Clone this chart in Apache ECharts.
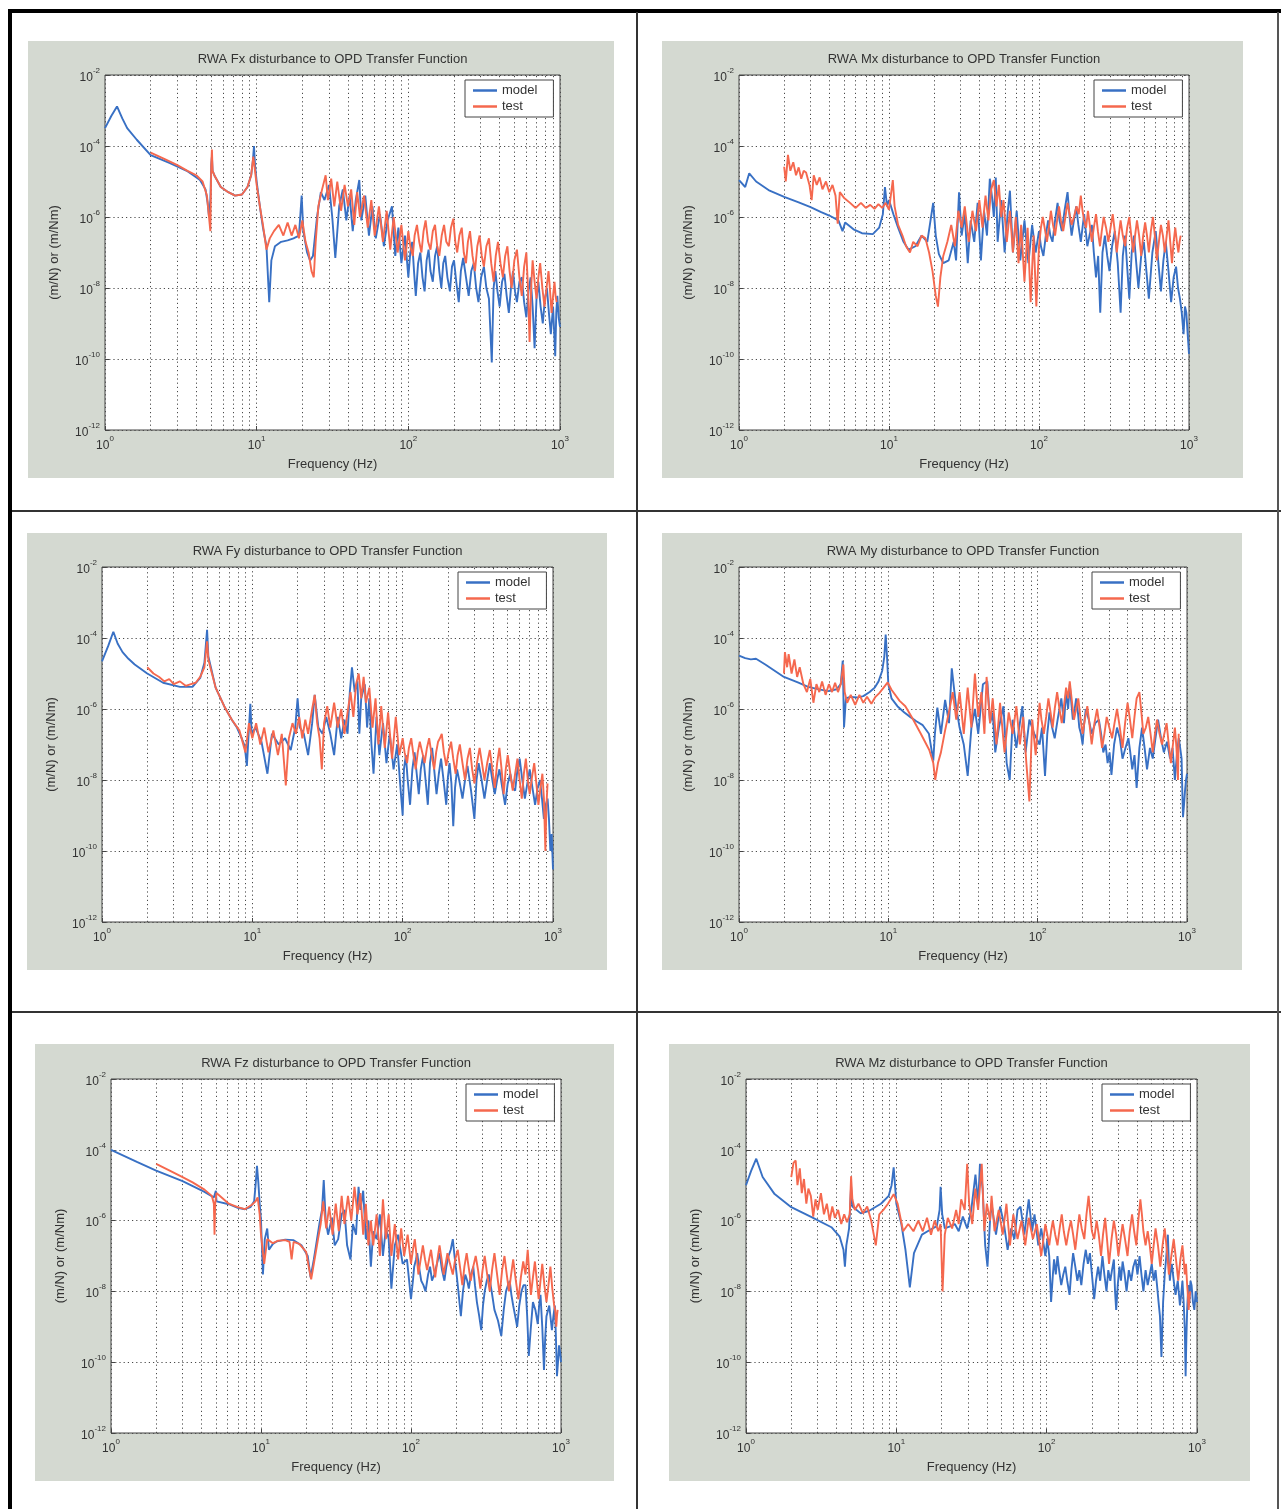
<!DOCTYPE html>
<html><head><meta charset="utf-8">
<script src="https://cdn.jsdelivr.net/npm/echarts@6/dist/echarts.min.js"></script>
<style>html,body{margin:0;padding:0;background:#fff}#c{width:1281px;height:1509px}</style>
</head><body><div id="c"></div>
<script>
// ---------------- text ----------------
const panelTitles = [
  'RWA Fx disturbance to OPD Transfer Function',
  'RWA Mx disturbance to OPD Transfer Function',
  'RWA Fy disturbance to OPD Transfer Function',
  'RWA My disturbance to OPD Transfer Function',
  'RWA Fz disturbance to OPD Transfer Function',
  'RWA Mz disturbance to OPD Transfer Function'
];
const xAxisName = 'Frequency (Hz)';
const yAxisName = '(m/N) or (m/Nm)';
const seriesNames = ['model', 'test'];
// tick values (decades) and minor grid frequencies
const xTickValues = [1, 10, 100, 1000];
const yTickValues = [1e-12, 1e-10, 1e-8, 1e-6, 1e-4, 1e-2];
const minorGridFreqs = [2,3,4,5,6,7,8,9,20,30,40,50,60,70,80,90,200,300,400,500,600,700,800,900];

// ---------------- data: [frequency Hz, magnitude] ----------------
const fxModel = [[1,3.2e-4],[1.1,7e-4],[1.2,1.3e-3],[1.3,6e-4],[1.4,3.2e-4],[1.62,1.5e-4],[2,5.5e-5],[2.68,3.3e-5],[3.46,2e-5],[4.23,1.1e-5],[4.6,6e-6],[4.75,2.5e-6],[4.85,1e-6],[4.95,3e-6],[5.02,3e-5],[5.07,5e-5],[5.12,2e-5],[5.3,1.4e-5],[5.8,7e-6],[6.5,5e-6],[7.2,4e-6],[8,4.3e-6],[8.7,7e-6],[9.2,1.5e-5],[9.45,4e-5],[9.6,1e-4],[9.75,3e-5],[10,1e-5],[10.5,2e-6],[11,5e-7],[11.6,1.5e-7],[12.1,4e-9],[12.5,6e-8],[13.2,1.5e-7],[14.5,2e-7],[16,2.2e-7],[17.5,2.5e-7],[19,3e-7],[19.8,4e-6],[20.3,4e-7],[21.5,1e-7],[22.5,6e-8],[23.5,8e-8],[25,1e-6],[26.5,5e-6],[28,3e-6],[30,8e-6],[31.5,1e-6],[33,7e-8],[35,2e-6],[37,6e-6],[39,8e-7],[41,4e-6],[43,4e-7],[45,3e-6],[47.5,1.1e-5],[49,8e-7],[52,4e-6],[55,3e-7],[58,2e-6],[61,2.5e-7],[65,1.2e-6],[69,1.5e-7],[73,8e-7],[78,2e-6],[82,8e-8],[86,5e-7],[90,5e-8],[95,3e-7],[100,2e-8],[103,1e-7],[106,2e-7],[109,3e-8],[112,6e-9],[116,5e-8],[120,1e-7],[124,2e-8],[128,8e-9],[132,6e-8],[136,1.2e-7],[140,3e-8],[145,1.5e-8],[150,8e-8],[155,1.5e-7],[160,3e-8],[165,1e-8],[170,5e-8],[175,8e-8],[181,2e-8],[188,8e-9],[194,4e-8],[200,6e-8],[207,1.5e-8],[215,4e-9],[222,3e-8],[230,7e-8],[240,2e-8],[250,6e-9],[260,3e-8],[270,5e-8],[280,1e-8],[290,4e-9],[302,2e-8],[315,4e-8],[327,1e-8],[340,5e-9],[355,8e-11],[365,1e-8],[375,3e-8],[387,8e-9],[400,3e-9],[415,1.5e-8],[430,2.5e-8],[445,6e-9],[460,2e-9],[475,1e-8],[490,3e-8],[505,8e-9],[520,4e-9],[540,1.5e-8],[560,2e-8],[580,4e-9],[600,1.5e-9],[620,8e-9],[640,2e-8],[660,3e-9],[680,2e-10],[700,5e-9],[720,1.5e-8],[745,3e-9],[770,1e-9],[795,5e-9],[820,1e-8],[845,2e-9],[870,5e-10],[900,3e-9],[930,1.2e-10],[945,2e-9],[960,6e-9],[980,1.5e-9],[1000,8e-10]];
const fxTest = [[2,6.5e-5],[2.5,4.2e-5],[3,2.9e-5],[3.5,2e-5],[4,1.5e-5],[4.4,1e-5],[4.7,4e-6],[4.85,1e-6],[4.95,4e-7],[5.02,3e-5],[5.07,8e-5],[5.12,2e-5],[5.3,1.4e-5],[5.8,7e-6],[6.5,5e-6],[7.2,4e-6],[8,4.3e-6],[8.7,7e-6],[9.2,1.5e-5],[9.5,5e-5],[9.75,2e-5],[10,8e-6],[10.5,2e-6],[11,6e-7],[11.6,1.2e-7],[12.2,2.5e-7],[13,4e-7],[14,6e-7],[15,3e-7],[16,7e-7],[17,3e-7],[18,6e-7],[19,2.5e-7],[20,8e-7],[21,2e-7],[22,1e-7],[23,3e-8],[23.8,2e-8],[24.5,2e-7],[25.5,2e-6],[27,6e-6],[28.5,1.5e-5],[29.5,3e-6],[31,1.2e-5],[32.5,2e-6],[34,1e-5],[36,1.5e-6],[38,8e-6],[40,2e-6],[42,6e-6],[44,6e-7],[46,5e-6],[48,1e-6],[51,4e-6],[54,5e-7],[57,3e-6],[60,3e-7],[64,2e-6],[68,2e-7],[72,1.5e-6],[76,1.2e-7],[80,1e-6],[85,1e-7],[90,6e-7],[95,6e-8],[100,4e-7],[103,1.5e-7],[107,8e-8],[110,3e-7],[114,6e-7],[118,2e-7],[122,1e-7],[126,4e-7],[130,8e-7],[135,2e-7],[140,1.2e-7],[145,4e-7],[150,6e-7],[155,1.5e-7],[160,8e-8],[166,3e-7],[172,6e-7],[178,2e-7],[185,1.5e-7],[191,5e-7],[198,9e-7],[204,2e-7],[210,1e-7],[217,3e-7],[225,5e-7],[232,1e-7],[240,5e-8],[247,2e-7],[255,4e-7],[265,8e-8],[275,3e-8],[285,1.5e-7],[295,3e-7],[305,8e-8],[315,4e-8],[327,1.5e-7],[340,2.5e-7],[352,5e-8],[365,1.5e-8],[377,8e-8],[390,2e-7],[405,5e-8],[420,2e-8],[435,8e-8],[450,1.5e-7],[465,3e-8],[480,1e-8],[500,6e-8],[520,1.2e-7],[540,2e-8],[560,6e-9],[580,4e-8],[600,1e-7],[615,1e-8],[630,3e-10],[645,1e-8],[660,6e-8],[680,1.5e-8],[700,5e-9],[720,2e-8],[740,5e-8],[765,1e-8],[790,3e-9],[815,1e-8],[840,3e-8],[860,8e-9],[880,2e-9],[900,6e-9],[920,1.5e-8],[935,6e-9],[950,4e-9]];

const mxModel = [[1,1.1e-5],[1.1,7e-6],[1.17,1.7e-5],[1.3,1e-5],[1.6,5.5e-6],[2,3.7e-6],[2.5,2.6e-6],[3,1.9e-6],[3.5,1.4e-6],[4,1.1e-6],[4.6,8e-7],[4.9,4e-7],[5.1,7e-7],[5.8,4.5e-7],[6.6,3.5e-7],[7.8,3.3e-7],[8.6,5e-7],[9.1,1.2e-6],[9.4,7e-6],[9.7,2e-6],[10,3e-6],[10.7,1.2e-6],[11.5,5e-7],[12.5,2e-7],[13.5,1.2e-7],[15,1.5e-7],[16.5,3e-7],[18,2e-7],[19.7,2.5e-6],[20.5,3e-7],[21.5,9e-8],[23,5e-8],[25,6e-8],[27,2e-7],[28,6e-8],[29.3,5e-6],[30.5,3e-7],[32,1.2e-6],[33.5,5e-8],[35,8e-7],[37,2e-7],[39,2.5e-6],[41,6e-8],[43,1.5e-6],[45,3e-7],[47,1.2e-5],[48.5,4e-6],[50,1e-6],[51.5,1.3e-5],[53,2e-7],[56,3e-6],[59,1e-7],[62,1.5e-6],[64,5.5e-6],[67,1e-7],[71,1.5e-6],[75,6e-8],[80,8e-7],[85,5e-8],[90,6e-7],[95,1e-7],[100,4e-7],[103,1.5e-7],[107,8e-8],[111,3e-7],[115,8e-7],[119,3e-7],[123,2e-7],[128,8e-7],[133,2.5e-6],[137,8e-7],[142,4e-7],[148,1.5e-6],[155,5e-6],[160,1e-6],[165,3e-7],[171,8e-7],[177,2e-6],[183,6e-7],[190,2e-7],[195,5e-7],[200,1.2e-6],[205,4e-7],[210,1.5e-7],[217,3e-7],[225,6e-7],[232,1e-7],[240,2e-8],[248,8e-8],[256,2e-9],[265,1e-7],[275,3e-7],[285,8e-8],[295,3e-8],[307,1.5e-7],[320,4e-7],[335,5e-8],[350,2e-9],[362,8e-8],[375,3e-7],[387,4e-8],[400,5e-9],[415,1e-7],[430,3e-7],[445,5e-8],[460,1e-8],[480,8e-8],[500,2e-7],[520,3e-8],[540,5e-9],[570,1e-7],[600,4e-7],[625,5e-8],[650,8e-9],[675,6e-8],[700,2e-7],[730,3e-8],[760,4e-9],[790,2e-8],[820,4e-8],[845,1e-8],[870,5e-9],[895,2e-9],[920,5e-10],[940,3e-9],[960,2e-9],[980,5e-10],[1000,1.4e-10]];
const mxTest = [[2,2.6e-5],[2.05,1e-5],[2.12,5.6e-5],[2.2,2e-5],[2.3,3.5e-5],[2.4,1.5e-5],[2.5,2.5e-5],[2.6,1.2e-5],[2.7,2e-5],[2.8,1.8e-5],[2.95,8e-6],[3.05,3e-6],[3.15,1.5e-5],[3.3,8e-6],[3.45,1.3e-5],[3.6,6e-6],[3.8,1e-5],[4,5e-6],[4.2,8e-6],[4.4,4e-6],[4.55,6.5e-7],[4.7,5e-6],[5,3.5e-6],[5.5,2.5e-6],[6,1.8e-6],[6.5,2.5e-6],[7,1.8e-6],[7.5,2.2e-6],[8,1.7e-6],[8.5,2.3e-6],[9,1.8e-6],[9.5,2.5e-6],[10,1.6e-6],[10.6,1.1e-5],[10.9,2e-6],[11.5,6e-7],[12.3,3e-7],[13,1.5e-7],[13.8,1e-7],[14.5,2e-7],[15.5,1.5e-7],[16.5,3e-7],[17.5,2.5e-7],[18.5,1e-7],[19.5,3e-8],[20.5,6e-9],[21.2,3e-9],[22,2e-8],[23,8e-8],[24.5,2e-7],[26,6e-7],[27.5,1.5e-7],[29,1.5e-6],[30.5,5e-7],[32,2e-6],[34,2e-7],[36,1.5e-6],[38,4e-7],[40,3e-6],[42,5e-7],[44,4e-6],[46,8e-7],[48,6e-6],[50,1.1e-5],[52,2e-6],[54,8e-6],[56,1e-6],[58,3e-6],[61,2e-7],[64,1.5e-6],[67,1e-7],[70,1e-6],[73,5e-8],[76,6e-7],[80,1.5e-8],[84,5e-7],[88,4e-9],[92,3e-7],[96,3e-9],[100,1.5e-7],[103,5e-7],[106,1e-6],[110,4e-7],[113,2e-7],[117,6e-7],[120,1.5e-6],[124,6e-7],[128,3e-7],[132,8e-7],[136,2e-6],[140,8e-7],[145,4e-7],[150,1e-6],[155,2.5e-6],[160,1.2e-6],[165,6e-7],[171,1e-6],[178,2e-6],[184,1.2e-6],[190,4e-6],[195,1.5e-6],[200,8e-7],[206,5e-7],[212,1.5e-6],[218,6e-7],[225,2e-7],[232,5e-7],[240,1.2e-6],[247,4e-7],[255,1.5e-7],[262,4e-7],[270,1e-6],[280,5e-7],[290,2e-7],[300,5e-7],[310,1.2e-6],[320,4e-7],[330,1e-7],[340,3e-7],[350,8e-7],[362,3e-7],[375,1.5e-7],[387,5e-7],[400,1e-6],[412,3e-7],[425,1e-7],[437,3e-7],[450,8e-7],[465,3e-7],[480,8e-8],[495,3e-7],[510,7e-7],[525,3e-7],[540,1e-7],[557,4e-7],[575,1e-6],[592,3e-7],[610,6e-8],[630,2e-7],[650,6e-7],[670,3e-7],[690,1e-7],[710,3e-7],[730,8e-7],[750,2e-7],[770,5e-8],[790,2e-7],[810,5e-7],[830,2e-7],[850,1e-7],[865,2e-7],[880,3e-7]];

const fyModel = [[1,2.2e-5],[1.1,6e-5],[1.19,1.5e-4],[1.27,7e-5],[1.37,4e-5],[1.5,2.6e-5],[1.65,1.8e-5],[2,1e-5],[2.55,5.5e-6],[3.3,4.2e-6],[4,4.2e-6],[4.5,7.5e-6],[4.8,2e-5],[5,1.7e-4],[5.1,3e-5],[5.3,1.5e-5],[5.7,4e-6],[6.5,1.2e-6],[7.3,5e-7],[7.9,3e-7],[8.5,1.5e-7],[8.9,9e-8],[9.2,2.5e-8],[9.5,3e-7],[9.7,1.4e-6],[9.9,2e-7],[10.5,3e-7],[11.5,1.2e-7],[12.6,1.5e-8],[13.5,2e-7],[15,1e-7],[16.5,1.5e-7],[18,7e-8],[19.3,3e-7],[20,2e-6],[20.7,3e-7],[22,2e-7],[23.5,5e-8],[25,4e-7],[26,2.5e-6],[27.5,3e-7],[29.3,2e-7],[31,6e-7],[33,2e-7],[35,5e-8],[37,6e-7],[39,1.5e-7],[41,5e-7],[43,2e-7],[44.5,3e-6],[46,1.5e-5],[48,3e-6],[50,6e-6],[51.5,2e-7],[53,2e-6],[56,5e-6],[58,3e-7],[60,2e-6],[62,1e-7],[64,1.5e-8],[67,6e-7],[70,5e-8],[74,4e-7],[78,3e-8],[82,2e-7],[87,2e-8],[92,1e-7],[97,5e-9],[100,1e-9],[102,2e-8],[105,5e-8],[108,1e-8],[112,2e-9],[116,2e-8],[120,6e-8],[124,1.5e-8],[128,4e-9],[132,2e-8],[137,5e-8],[142,1e-8],[147,2e-9],[152,3e-8],[157,8e-8],[162,2e-8],[168,4e-9],[174,1.5e-8],[180,4e-8],[187,1e-8],[195,2e-9],[200,1.2e-8],[205,3e-8],[211,8e-9],[217,5e-10],[223,6e-9],[230,2e-8],[240,8e-9],[250,3e-9],[260,1e-8],[270,2.5e-8],[285,5e-9],[300,8e-10],[310,1e-8],[320,3e-8],[335,1e-8],[350,3e-9],[365,1e-8],[380,3e-8],[395,1e-8],[410,4e-9],[425,1e-8],[440,2e-8],[460,6e-9],[480,2e-9],[500,8e-9],[520,1.5e-8],[540,6e-9],[560,5e-9],[580,2e-8],[600,4e-8],[625,1e-8],[650,3e-9],[675,8e-9],[700,2e-8],[730,6e-9],[760,2e-9],[790,6e-9],[820,1e-8],[845,3e-9],[870,8e-10],[895,2e-9],[920,3e-9],[940,8e-10],[960,1e-10],[980,3e-10],[1000,3e-11]];
const fyTest = [[2,1.5e-5],[2.2,1e-5],[2.4,8e-6],[2.6,6e-6],[2.8,7e-6],[3,5e-6],[3.3,6e-6],[3.6,4.5e-6],[3.9,5e-6],[4.2,5.5e-6],[4.5,8e-6],[4.8,1.5e-5],[5,8e-5],[5.1,2.5e-5],[5.3,1.3e-5],[5.7,4e-6],[6.5,1.2e-6],[7.3,5e-7],[8.2,2.5e-7],[9,6e-8],[9.5,4e-7],[10,1.5e-7],[10.6,4e-7],[11.3,1e-7],[12,3e-7],[12.8,6e-8],[13.8,2.5e-7],[14.8,5e-8],[15.7,2e-7],[16.7,7e-9],[17.5,1.5e-7],[18.5,4e-7],[19.5,2e-7],[20.5,6e-7],[21.5,1.5e-7],[22.5,5e-7],[23.5,2e-7],[25,1e-6],[26,2.5e-6],[27,4e-7],[28,1.5e-7],[29,2e-8],[30,4e-7],[31.5,1.2e-6],[33,3e-7],[35,1.5e-6],[37,3e-7],[39,1e-6],[41,2e-7],[43,8e-7],[45,3e-6],[47,6e-7],[49,5e-6],[51,1e-5],[53,2e-6],[55,8e-6],[57,1.5e-6],[60,4e-6],[63,3e-7],[66,2e-6],[69,1e-7],[72,1.2e-6],[76,8e-8],[80,8e-7],[85,4e-8],[90,6e-7],[95,5e-8],[100,1.5e-7],[103,6e-8],[107,3e-8],[110,8e-8],[114,1.5e-7],[118,5e-8],[122,2e-8],[126,6e-8],[130,1.2e-7],[135,6e-8],[140,3e-8],[145,8e-8],[150,1.5e-7],[156,5e-8],[162,2e-8],[167,6e-8],[172,1.2e-7],[177,1.5e-7],[182,2e-7],[188,6e-8],[195,2.5e-8],[202,6e-8],[210,1.2e-7],[217,4e-8],[225,1.5e-8],[232,5e-8],[240,1e-7],[250,3e-8],[260,1e-8],[270,4e-8],[280,8e-8],[290,2e-8],[300,8e-9],[312,3e-8],[325,8e-8],[337,3e-8],[350,1e-8],[365,3e-8],[380,7e-8],[395,2e-8],[410,6e-9],[425,3e-8],[440,8e-8],[455,2e-8],[470,4e-9],[485,2e-8],[500,5e-8],[520,1.5e-8],[540,5e-9],[560,1.5e-8],[580,4e-8],[600,1e-8],[620,3e-9],[640,1.5e-8],[660,4e-8],[680,1e-8],[700,4e-9],[725,1.2e-8],[750,3e-8],[775,8e-9],[800,2e-9],[825,6e-9],[850,1.5e-8],[870,3e-9],[890,1e-10],[905,2e-9],[920,8e-9]];

const myModel = [[1,3.2e-5],[1.1,2.7e-5],[1.2,2.5e-5],[1.3,2.6e-5],[1.5,1.8e-5],[2,8e-6],[2.5,5.5e-6],[2.9,4.2e-6],[3.5,3.5e-6],[4,3.2e-6],[4.5,3.6e-6],[4.8,5e-6],[4.95,2.3e-5],[5.05,3e-7],[5.2,2e-6],[5.55,2.2e-6],[6.2,2.1e-6],[6.8,2.3e-6],[7.5,3e-6],[8.1,4e-6],[8.6,6e-6],[9.1,1.2e-5],[9.4,3e-5],[9.6,1.25e-4],[9.8,3e-5],[10,5e-6],[10.5,2e-6],[11.5,1.2e-6],[12.8,8e-7],[14,6e-7],[15.4,4.5e-7],[17,3.5e-7],[18.7,2e-7],[20,3.5e-8],[20.5,2e-7],[21.3,1.1e-6],[22.5,2e-7],[24,1.8e-6],[25.5,4e-7],[26.6,1.4e-5],[28.4,1.2e-6],[30,3e-7],[32,1e-7],[34,1.3e-8],[36,3e-7],[38,1e-6],[40,2e-7],[43,5e-6],[46,6e-6],[48,4e-7],[50,8e-7],[52,6e-8],[55,3e-7],[59,1.2e-6],[62,3e-8],[65,1e-8],[68,5e-7],[72,8e-8],[76,4e-7],[79,1.2e-6],[83,6e-8],[88,5e-7],[95,2e-7],[103,1e-7],[107,3e-7],[112,1.3e-8],[116,2e-7],[120,8e-7],[125,3e-7],[130,1.5e-7],[137,6e-7],[144,2e-6],[150,4e-7],[155,3e-6],[160,1e-6],[164,5e-6],[168,1.5e-6],[172,5e-7],[177,1e-6],[181,2e-6],[186,8e-7],[190,3e-7],[195,2e-7],[200,1e-7],[205,4e-7],[210,1e-6],[220,5e-7],[230,2e-7],[243,4e-7],[257,5e-7],[266,2e-7],[275,6e-8],[285,1e-7],[294,3e-8],[303,6e-8],[312,1.4e-8],[325,1e-7],[340,3e-7],[355,1.5e-7],[370,4e-8],[387,8e-8],[405,1.5e-7],[417,6e-8],[430,2e-8],[445,5e-8],[460,6e-9],[480,8e-8],[500,3e-7],[520,8e-8],[540,2e-8],[565,8e-8],[590,4e-8],[615,1.5e-7],[640,5e-7],[670,1.5e-7],[700,6e-8],[735,1.2e-7],[770,4e-8],[800,8e-8],[830,1e-8],[855,5e-8],[880,1.5e-7],[900,8e-8],[920,4e-8],[930,5e-9],[940,9e-10],[955,2e-9],[970,5e-9],[985,1e-8],[1000,1.5e-8]];
const myTest = [[2,1e-5],[2.03,4e-5],[2.1,1.5e-5],[2.15,3.5e-5],[2.25,1e-5],[2.35,2.5e-5],[2.45,8e-6],[2.55,1.5e-5],[2.7,5e-6],[2.85,3e-6],[3,7e-6],[3.15,1.5e-6],[3.3,5e-6],[3.45,3e-6],[3.6,6e-6],[3.8,2.5e-6],[4,5e-6],[4.2,3e-6],[4.4,5.5e-6],[4.6,3e-6],[4.8,5e-6],[5,1.8e-5],[5.1,3e-6],[5.3,1.5e-6],[5.6,2.5e-6],[6,1.3e-6],[6.4,2.5e-6],[6.8,1.5e-6],[7.2,2.2e-6],[7.7,1.4e-6],[8.2,2.2e-6],[8.7,2.8e-6],[9.3,4e-6],[9.9,5.6e-6],[10.5,3.5e-6],[11.9,1.7e-6],[13,1.2e-6],[14.5,5.5e-7],[16.5,2e-7],[18.8,7e-8],[20,3e-8],[20.6,1e-8],[21.5,3e-8],[22.5,6e-8],[24,2.5e-7],[25.7,1e-6],[27,3e-6],[28.5,5e-7],[30,3e-6],[32,2e-7],[34,4e-6],[36,3e-7],[38,1e-5],[40,6e-7],[42,3e-6],[44,2e-7],[45.5,8e-6],[48,4e-7],[50,2e-6],[53,1e-7],[56,1.5e-6],[60,6e-8],[64,8e-7],[68,2e-7],[72,1.2e-6],[76,1e-7],[80,6e-7],[84,3e-8],[88,2.5e-9],[92,5e-7],[97,5e-8],[103,1.5e-6],[106,5e-7],[110,2e-7],[114,6e-7],[118,2e-6],[122,8e-7],[126,3e-7],[130,1e-6],[135,3e-6],[140,1e-6],[145,4e-7],[150,1.2e-6],[155,4e-6],[160,2e-6],[164,6e-6],[170,1.5e-6],[175,5e-7],[181,1e-6],[187,2e-6],[193,6e-7],[200,2e-7],[207,5e-7],[215,1.2e-6],[222,4e-7],[230,1e-7],[240,4e-7],[250,1e-6],[260,3e-7],[270,8e-8],[280,2e-7],[290,6e-7],[302,3e-7],[315,1.5e-7],[327,4e-7],[340,1e-6],[355,3e-7],[370,8e-8],[385,4e-7],[400,1.5e-6],[415,5e-7],[430,1.5e-7],[445,6e-7],[460,2e-6],[480,3e-6],[495,8e-7],[510,2e-7],[530,3e-7],[550,6e-7],[570,2e-7],[590,6e-8],[610,2e-7],[630,5e-7],[655,2e-7],[680,1e-7],[705,2e-7],[730,4e-7],[755,1e-7],[780,3e-8],[805,1e-7],[830,3e-7],[850,8e-8],[870,1e-8],[880,2e-7]];

const fzModel = [[1,1e-4],[1.5,4.5e-5],[2,2.6e-5],[3,1.3e-5],[4.2,6.5e-6],[4.85,4.5e-6],[4.95,4e-6],[5,7e-6],[5.05,3.5e-6],[6.1,2.9e-6],[7,2.3e-6],[7.8,2.1e-6],[8.5,2.4e-6],[9,3.5e-6],[9.2,1e-5],[9.4,3.5e-5],[9.6,1.2e-5],[9.8,3e-6],[10,1e-6],[10.3,3e-8],[10.6,3e-7],[11,6e-7],[11.3,1.5e-7],[12,2.2e-7],[12.8,2.6e-7],[14.5,2.9e-7],[16.5,2.8e-7],[18.6,2e-7],[20.5,1e-7],[21.4,2.5e-8],[22.5,8e-8],[23.2,1.8e-7],[24.5,8e-7],[25.5,2e-6],[26.2,1.4e-5],[27,1e-6],[28,4e-7],[29.7,1.2e-6],[31,2e-7],[32.7,3e-7],[34.5,1.5e-6],[36,2e-6],[37.5,2e-7],[39.5,8e-8],[41,8e-7],[43,4e-7],[44.7,9e-6],[46,2e-6],[48,7e-6],[50,3e-7],[52,1e-6],[54,5e-8],[56,5e-7],[59,3e-7],[62,1.5e-6],[65,1e-7],[68,6e-7],[71,3e-7],[74,1.2e-8],[78,2e-7],[82,4e-7],[88,6e-8],[94,8e-8],[100,6e-9],[103,2e-8],[105,5e-8],[108,8e-8],[110,1.2e-7],[113,5e-8],[117,2e-8],[121,1.5e-8],[125,1e-8],[130,3e-8],[134,5e-8],[138,2e-8],[143,3e-8],[149,6e-8],[155,1.2e-7],[161,4e-8],[167,2e-8],[172,5e-8],[178,1e-7],[184,1.5e-7],[190,3e-7],[195,1e-7],[200,4e-8],[207,1e-8],[215,2e-9],[222,1e-8],[230,3e-8],[237,2e-8],[243,1.2e-8],[251,3e-8],[260,5e-8],[267,1.5e-8],[275,5e-9],[285,2e-9],[294,8e-10],[302,4e-9],[310,1e-8],[320,2e-8],[330,3e-8],[345,1e-8],[360,3e-9],[380,1.5e-9],[400,5.5e-10],[415,3e-9],[430,1e-8],[443,1.5e-8],[455,2e-8],[467,8e-9],[480,4e-9],[495,2e-9],[510,1e-9],[527,4e-9],[545,1e-8],[562,1.5e-8],[580,1.5e-8],[595,2e-9],[610,1.5e-10],[630,1e-9],[650,5e-9],[675,3e-9],[700,1.2e-9],[715,4e-9],[730,8e-9],[750,1e-9],[770,6e-11],[785,5e-10],[800,2e-9],[835,4e-9],[870,8e-10],[890,2e-9],[910,4e-9],[925,5e-10],[940,4e-11],[955,1e-10],[970,3e-10],[985,2e-10],[1000,1e-10]];
const fzTest = [[2,4e-5],[2.5,2.5e-5],[3,1.7e-5],[3.5,1.2e-5],[4.2,7.5e-6],[4.7,5e-6],[4.85,3e-6],[4.9,4e-7],[4.95,3e-6],[5.05,6e-6],[6.1,3e-6],[7,2.4e-6],[7.8,2.1e-6],[8.7,2.8e-6],[9.2,3.5e-6],[9.5,4.5e-6],[9.8,1.5e-6],[10,4e-7],[10.5,6e-8],[11,3e-7],[12,2.3e-7],[13,2.7e-7],[14.5,2.8e-7],[15.5,2.5e-7],[16,8e-8],[16.5,2.5e-7],[18,2.2e-7],[20,1.3e-7],[21,4e-8],[21.6,2.2e-8],[22.5,6e-8],[24,3e-7],[25,8e-7],[26,3.5e-6],[27.2,6e-7],[28.5,2.5e-6],[30,4e-7],[31.5,3e-6],[33,5e-7],[34.5,5e-6],[36,8e-7],[38,5e-6],[40,1e-6],[42,9e-6],[44,1.5e-6],[46,6e-6],[48,4e-7],[50,3e-6],[52,2e-7],[54,1e-6],[56,2e-7],[59,1.5e-6],[62,1e-7],[65,4e-6],[68,3e-7],[71,1.5e-6],[74,1e-7],[78,8e-7],[82,8e-8],[86,6e-7],[90,1e-7],[95,4e-7],[100,6e-8],[103,1.5e-7],[106,3e-7],[109,1e-7],[112,3e-8],[116,8e-8],[120,2e-7],[124,8e-8],[128,4e-8],[132,8e-8],[136,1.5e-7],[140,6e-8],[145,2.5e-8],[150,8e-8],[155,2e-7],[160,8e-8],[165,3e-8],[170,6e-8],[175,1.2e-7],[182,6e-8],[190,3e-8],[197,8e-8],[205,1.5e-7],[212,5e-8],[220,1.5e-8],[227,5e-8],[235,1.2e-7],[242,5e-8],[250,2e-8],[260,5e-8],[270,1e-7],[280,4e-8],[290,1.2e-8],[300,4e-8],[310,1e-7],[322,3e-8],[335,1e-8],[347,4e-8],[360,1.2e-7],[375,3e-8],[390,8e-9],[405,4e-8],[420,1e-7],[435,3e-8],[450,1e-8],[465,3e-8],[480,8e-8],[500,2e-8],[520,6e-9],[540,2.5e-8],[560,7e-8],[580,3e-8],[600,1.5e-7],[615,3e-8],[630,8e-9],[650,2.5e-8],[670,7e-8],[690,2e-8],[710,6e-9],[730,2e-8],[750,6e-8],[775,1.5e-8],[800,5e-9],[825,1.5e-8],[850,5e-8],[875,1.2e-8],[900,4e-9],[915,3e-9],[930,1e-9],[940,2e-9],[950,3e-9]];

const mzModel = [[1,1e-5],[1.08,2.5e-5],[1.17,5.6e-5],[1.29,1.7e-5],[1.55,5.6e-6],[2,2.4e-6],[2.73,1.26e-6],[3.7,6.5e-7],[4.2,3.5e-7],[4.45,1.5e-7],[4.55,5e-8],[4.65,2e-7],[4.85,6e-7],[5,9e-6],[5.1,2.5e-6],[5.8,1.6e-6],[6.6,1.9e-6],[7.9,3e-6],[8.9,5e-6],[9.3,1e-5],[9.6,3.2e-5],[9.8,1e-5],[10,3e-6],[10.8,8e-7],[11.5,1.5e-7],[12.3,1.3e-8],[13.1,1.2e-7],[14.8,4e-7],[16.8,5.5e-7],[18.6,7e-7],[19.4,2e-6],[19.7,9e-6],[20.2,1.5e-6],[21,6e-7],[23,7e-7],[24.5,8e-7],[26,5e-7],[27.7,1.3e-6],[29.6,6e-7],[31.5,2e-6],[33.6,2e-5],[35,3e-6],[36,4e-5],[37.5,8e-6],[39,2e-7],[40.4,5e-8],[42,1e-6],[43,3e-6],[46,4e-7],[49,2.5e-6],[52,8e-7],[55,1.5e-7],[58,6e-7],[61,3e-7],[64,2e-6],[67,2.5e-6],[71,4e-7],[76,4e-6],[80,5e-7],[83,1.5e-6],[88,2e-7],[92,6e-7],[98,1e-7],[101,3e-7],[104,1e-7],[107,5e-9],[110,3e-8],[112,8e-8],[115,3e-8],[118,1e-7],[121,4e-8],[125,1.5e-8],[129,3e-8],[133,5e-8],[137,2e-8],[142,8e-9],[146,4e-8],[150,1.2e-7],[155,5e-8],[160,2e-8],[165,4e-8],[170,1.5e-8],[176,6e-8],[182,1.5e-7],[188,6e-8],[194,1.2e-7],[200,3e-8],[207,6e-9],[213,2e-8],[220,5e-8],[227,2e-8],[235,1e-7],[242,3e-8],[250,1e-8],[257,4e-8],[265,2e-8],[272,4e-8],[280,8e-8],[285,1e-8],[290,3e-9],[297,1.5e-8],[305,5e-8],[312,2e-8],[320,7e-8],[330,3e-8],[340,1e-8],[352,4e-8],[365,2e-8],[377,5e-8],[390,8e-8],[402,3e-8],[415,1e-7],[427,3e-8],[440,1e-8],[455,4e-8],[470,1.5e-8],[485,3e-8],[500,6e-8],[515,2e-8],[530,4e-8],[542,1.5e-8],[555,5e-9],[567,2e-9],[580,1.4e-10],[595,5e-9],[610,3e-8],[625,1e-7],[640,4e-7],[650,6e-8],[660,2e-8],[670,4e-8],[680,6e-8],[700,2e-8],[720,8e-9],[745,2e-8],[770,4e-9],[785,8e-9],[800,2e-8],[815,5e-9],[830,8e-10],[840,4e-11],[850,5e-10],[860,3e-9],[875,1.5e-8],[890,5e-9],[905,2e-8],[920,1.5e-8],[940,5e-9],[960,3e-9],[980,1e-8],[1000,5e-9]];
const mzTest = [[2,1.7e-5],[2.07,4.3e-5],[2.14,5e-5],[2.2,1e-5],[2.28,3e-5],[2.35,6e-6],[2.43,1.5e-5],[2.52,3e-6],[2.6,8e-6],[2.7,5e-6],[2.8,1.3e-6],[2.9,4e-6],[3,2e-6],[3.15,6e-6],[3.3,1.5e-6],[3.45,3e-6],[3.6,1e-6],[3.75,2.5e-6],[3.9,1.2e-6],[4.1,2e-6],[4.3,8e-7],[4.5,1.5e-6],[4.7,9e-7],[4.9,1.5e-6],[5,1.8e-5],[5.1,4e-6],[5.3,2e-6],[5.6,3e-6],[6,1.6e-6],[6.4,2.5e-6],[6.8,1e-6],[7.3,2e-7],[7.7,1.5e-6],[8.2,2e-6],[8.8,3e-6],[9.6,5.6e-6],[10.2,3e-6],[11.1,5e-7],[12,8e-7],[13,5e-7],[14,1e-6],[15,5e-7],[16,1.2e-6],[17,4e-7],[18,1e-6],[19,5e-7],[19.7,8e-7],[20.3,1e-8],[21,4e-7],[22,1.2e-6],[23.5,6e-7],[25,2e-6],[26,8e-7],[27,4e-6],[28.5,2e-6],[29.6,4e-5],[30.5,3e-6],[32,8e-7],[33.5,8e-6],[35,2e-6],[37,4e-5],[38.5,5e-7],[40,3e-6],[42,1e-6],[43,5e-6],[45,5e-7],[48,2e-6],[51,4e-7],[54,3e-6],[57,2e-7],[60,1.5e-6],[64,3e-7],[68,1e-6],[72,2e-7],[76,1.2e-6],[81,3e-7],[86,8e-7],[92,1e-7],[98,8e-7],[101,4e-7],[104,2e-7],[107,5e-7],[110,1e-6],[114,4e-7],[118,2e-7],[122,6e-7],[126,1.5e-6],[130,5e-7],[135,2e-7],[140,5e-7],[145,1e-6],[150,4e-7],[155,1.5e-7],[160,5e-7],[165,1.5e-6],[171,6e-7],[178,3e-7],[184,1.5e-6],[190,5e-6],[195,1.5e-6],[200,5e-7],[207,3e-7],[215,1e-6],[222,4e-7],[230,1e-7],[237,4e-7],[245,1.2e-6],[252,3e-7],[260,6e-8],[270,3e-7],[280,1e-6],[290,4e-7],[300,1e-7],[310,3e-7],[320,8e-7],[332,3e-7],[345,1e-7],[357,5e-7],[370,1.5e-6],[382,5e-7],[395,2e-7],[407,1e-6],[420,4e-6],[430,1.5e-6],[440,5e-7],[455,2e-7],[470,5e-7],[485,2e-7],[500,6e-8],[515,2e-7],[530,6e-7],[550,2e-7],[570,5e-8],[590,2e-7],[610,6e-7],[630,1.5e-7],[650,3e-8],[675,1e-7],[700,3e-7],[725,8e-8],[750,2e-8],[775,8e-8],[800,2e-7],[815,8e-8],[830,3e-8],[845,6e-8],[860,1.5e-8],[870,8e-9],[880,3e-9],[890,6e-9],[900,1e-8]];

const panelData = [
  [fxModel, fxTest], [mxModel, mxTest],
  [fyModel, fyTest], [myModel, myTest],
  [fzModel, fzTest], [mzModel, mzTest]
];

// ---------------- layout (pixels) ----------------
const plotBoxes = [ // left, top, width, height
  [105, 75, 455, 355], [739, 75, 450, 355],
  [102, 567, 451, 355], [739, 567, 448, 355],
  [111, 1079, 450, 354], [746, 1079, 451, 354]
];
const panelBoxes = [ // grey figure background
  [28, 41, 586, 437], [662, 41, 581, 437],
  [27, 533, 580, 437], [662, 533, 580, 437],
  [35, 1044, 579, 437], [669, 1044, 581, 437]
];

const FONT = '"Liberation Sans", Arial, Helvetica, sans-serif';
const BLUE = '#3870c4';
const RED = '#f5684e';
const TXT = '#333';
const GRIDC = '#4a4a4a';
const PANEL_BG = '#d4d9d1';

const rich = {
  b: {fontSize: 12, fontFamily: FONT, color: TXT, lineHeight: 17, verticalAlign: 'bottom'},
  s: {fontSize: 8, fontFamily: FONT, color: TXT, lineHeight: 6, verticalAlign: 'top'}
};
function decLabel(v) {
  const e = Math.round(Math.log(v) / Math.LN10);
  return '{b|10}{s|' + e + '}';
}

const grids = [], xAxes = [], yAxes = [], series = [], legends = [], graphics = [];

panelBoxes.forEach(b => graphics.push({
  type: 'rect', z: -10, silent: true,
  shape: {x: b[0], y: b[1], width: b[2], height: b[3]},
  style: {fill: PANEL_BG}
}));

plotBoxes.forEach((p, i) => {
  grids.push({left: p[0], top: p[1], width: p[2], height: p[3], show: true,
    backgroundColor: '#fff', borderColor: '#444', borderWidth: 1, containLabel: false});
  xAxes.push({
    gridIndex: i, type: 'log', logBase: 10, min: xTickValues[0], max: xTickValues[xTickValues.length - 1], interval: 1,
    axisLine: {show: false},
    axisTick: {show: true, inside: true, length: 4, lineStyle: {color: '#444'}},
    axisLabel: {formatter: decLabel, rich: rich, margin: 5, showMinLabel: true, showMaxLabel: true},
    splitLine: {show: true, lineStyle: {type: [1.2, 3], color: GRIDC, width: 1}},
    name: xAxisName, nameLocation: 'middle', nameGap: 28,
    nameTextStyle: {fontFamily: FONT, fontSize: 13, color: TXT}
  });
  yAxes.push({
    gridIndex: i, type: 'log', logBase: 10, min: yTickValues[0], max: yTickValues[yTickValues.length - 1], interval: 2,
    axisLine: {show: false},
    axisTick: {show: true, inside: true, length: 4, lineStyle: {color: '#444'}},
    axisLabel: {formatter: decLabel, rich: rich, margin: 5, showMinLabel: true, showMaxLabel: true},
    splitLine: {show: true, lineStyle: {type: [1.2, 3], color: GRIDC, width: 1}},
    name: yAxisName, nameLocation: 'middle', nameGap: 44, nameRotate: 90,
    nameTextStyle: {fontFamily: FONT, fontSize: 13, color: TXT}
  });
  const [model, test] = panelData[i];
  series.push({
    name: seriesNames[0], type: 'line', xAxisIndex: i, yAxisIndex: i, data: model,
    symbol: 'none', showSymbol: false, z: 3,
    lineStyle: {width: 1.9, color: BLUE}, itemStyle: {color: BLUE},
    markLine: {
      silent: true, z: 1, symbol: ['none', 'none'], animation: false,
      label: {show: false}, emphasis: {disabled: true},
      lineStyle: {type: [1.2, 3], color: GRIDC, width: 1},
      data: minorGridFreqs.map(f => ({xAxis: f}))
    }
  });
  series.push({
    name: seriesNames[1], type: 'line', xAxisIndex: i, yAxisIndex: i, data: test,
    symbol: 'none', showSymbol: false, z: 4,
    lineStyle: {width: 1.9, color: RED}, itemStyle: {color: RED}
  });
  legends.push({
    data: seriesNames, orient: 'vertical', selectedMode: false,
    left: p[0] + p[2] - 95, top: p[1] + 5,
    icon: 'rect', itemWidth: 24, itemHeight: 2.5, itemGap: 3,
    padding: [4, 16, 4, 8],
    backgroundColor: '#fff', borderColor: '#444', borderWidth: 1, borderRadius: 0,
    textStyle: {fontFamily: FONT, fontSize: 13, color: TXT}
  });
  graphics.push({
    type: 'text', silent: true, z: 10,
    x: p[0] + p[2] / 2, y: p[1] - 16,
    style: {text: panelTitles[i], font: '13px ' + FONT, fill: TXT,
      align: 'center', verticalAlign: 'middle', textAlign: 'center', textVerticalAlign: 'middle'}
  });
});

// frame lines
[
  [8, 9, 1273, 4, '#000'], [8, 9, 4, 1500, '#000'],
  [636, 12, 2, 1497, '#333'], [12, 510, 1269, 2, '#333'],
  [12, 1011, 1269, 2, '#333'], [1277, 12, 2, 1497, '#555']
].forEach(r => graphics.push({
  type: 'rect', z: 20, silent: true,
  shape: {x: r[0], y: r[1], width: r[2], height: r[3]}, style: {fill: r[4]}
}));

const chart = echarts.init(document.getElementById('c'), null, {renderer: 'canvas'});
chart.setOption({
  animation: false,
  backgroundColor: '#fff',
  grid: grids, xAxis: xAxes, yAxis: yAxes, series: series, legend: legends,
  graphic: {elements: graphics}
});
</script></body></html>
